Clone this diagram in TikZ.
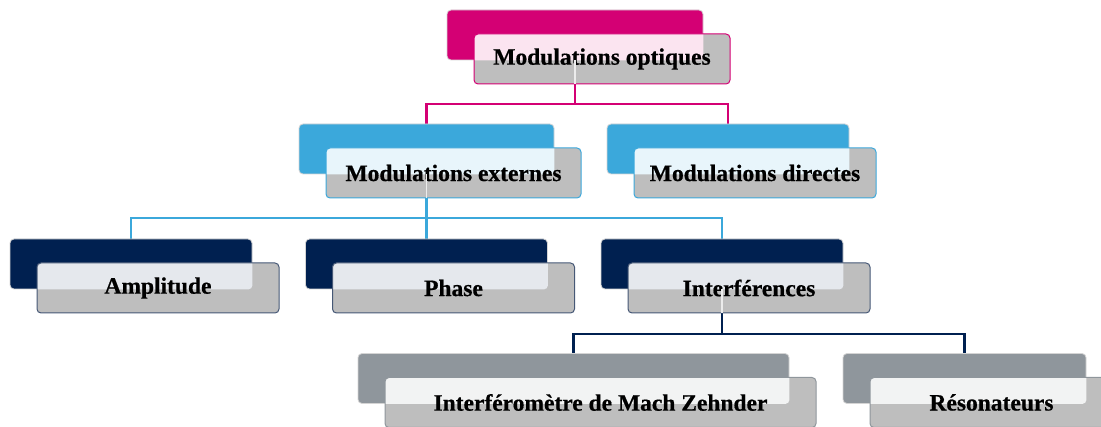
\documentclass[tikz,border=0pt]{standalone}
\usepackage{fontspec}
\setmainfont{Liberation Serif}[BoldFeatures={FakeBold=0.6}]
\usetikzlibrary{backgrounds}
\definecolor{cMag}{RGB}{212,0,116}
\definecolor{lMag}{RGB}{251,228,240}
\definecolor{cBlu}{RGB}{59,168,219}
\definecolor{lBlu}{RGB}{232,245,251}
\definecolor{cNav}{RGB}{0,32,80}
\definecolor{lNav}{RGB}{229,232,237}
\definecolor{bNav}{RGB}{70,88,118}
\definecolor{cGry}{RGB}{143,150,156}
\definecolor{lGry}{RGB}{242,243,243}
\definecolor{fGry}{RGB}{190,190,190}
\definecolor{eGry}{RGB}{212,212,212}
\tikzset{
  backbox/.style={rectangle, rounded corners=4pt, minimum height=50pt, inner sep=0pt, draw=eGry, line width=0.8pt},
  frontbox/.style={rectangle, rounded corners=4pt, minimum height=50pt, inner sep=0pt, fill=fGry, line width=1pt,
     font=\fontsize{23.5}{27}\selectfont\bfseries, text=black},
  conn/.style={line width=2.5pt},
  inner line/.style={line width=1.5pt, white!70!fGry}
}
\newcommand\orgitem[8]{%
  \node[backbox, fill=#5, minimum width=#4pt] (#1b) at (#2,#3) {};
  \node[frontbox, draw=#7, minimum width=#4pt,
        path picture={\fill[#6, rounded corners=4pt] (#1b.north west) rectangle (#1b.south east);}]
        (#1) at ([shift={(27,24)}]#1b.center) {#8};
}
\begin{document}
\begin{tikzpicture}[x=1pt,y=-1pt]
\useasboundingbox (0,0) rectangle (1101,427);
\orgitem{top}{575}{35}{256}{cMag}{lMag}{cMag}{Modulations optiques}
\orgitem{ext}{426.5}{149}{255}{cBlu}{lBlu}{cBlu}{Modulations externes}
\orgitem{dir}{728}{149}{242}{cBlu}{lBlu}{cBlu}{Modulations directes}
\orgitem{amp}{131}{264}{242}{cNav}{lNav}{bNav}{Amplitude}
\orgitem{pha}{426.5}{264}{242}{cNav}{lNav}{bNav}{Phase}
\orgitem{itf}{722}{264}{242}{cNav}{lNav}{bNav}{Interférences}
\orgitem{mz}{573.5}{378.5}{431}{cGry}{lGry}{cGry}{Interféromètre de Mach Zehnder}
\orgitem{res}{964.5}{378.5}{243}{cGry}{lGry}{cGry}{Résonateurs}
\begin{scope}[on background layer]
  \draw[conn, cMag] (topb.south) -- (topb.south |- 0,104) -| (extb.north);
  \draw[conn, cMag] (topb.south |- 0,104) -| (dirb.north);
  \draw[conn, cBlu] (extb.south) -- (extb.south |- 0,218) -| (ampb.north);
  \draw[conn, cBlu] (extb.south |- 0,218) -| (phab.north);
  \draw[conn, cBlu] (extb.south |- 0,218) -| (itfb.north);
  \draw[conn, cNav] (itfb.south) -- (itfb.south |- 0,334) -| (mzb.north);
  \draw[conn, cNav] (itfb.south |- 0,334) -| (resb.north);
\end{scope}
\draw[inner line] (topb.south) -- (topb.south |- top.south);
\draw[inner line] (extb.south) -- (extb.south |- ext.south);
\draw[inner line] (itfb.south) -- (itfb.south |- itf.south);
\end{tikzpicture}
\end{document}
